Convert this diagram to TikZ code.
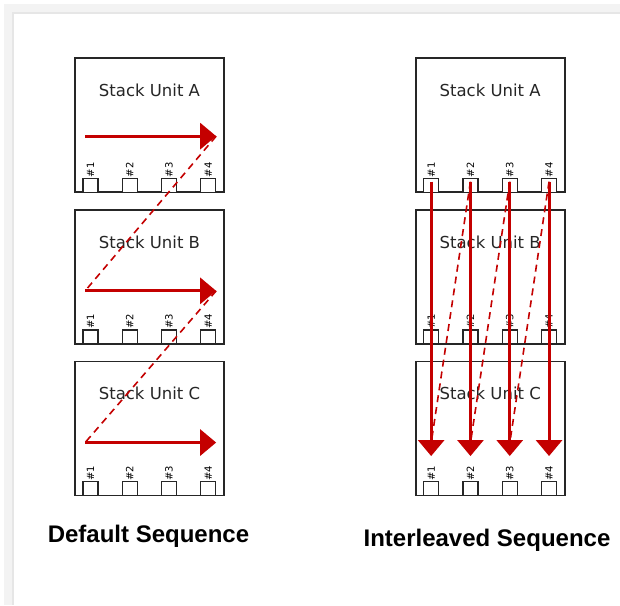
\documentclass[tikz,border=0pt]{standalone}
\usepackage{fontspec}
\setmainfont{Liberation Sans}
\newfontfamily\unitfont{DejaVu Sans}
\usetikzlibrary{arrows.meta,positioning,calc}
\definecolor{ink}{HTML}{262626}
\definecolor{seqred}{HTML}{C40000}
\definecolor{shadegray}{HTML}{E6E6E6}

\begin{document}
\begin{tikzpicture}[x=1pt,y=-1pt,node distance=16pt and 190pt, every node/.style={inner sep=0pt}, unit/.style={draw=ink,line width=1.7pt,fill=white,minimum width=149pt,minimum height=134pt}, port/.style={draw=ink,line width=1.2pt,fill=white,minimum width=15pt,minimum height=14pt,anchor=south}, portlabel/.style={font=\unitfont\fontsize{10}{10}\selectfont,text=black,rotate=90}, unittitle/.style={font=\unitfont\fontsize{16.5}{16.5}\selectfont,text=ink}, caption/.style={font=\bfseries\fontsize{24}{24}\selectfont,text=black}, seq/.style={-{Triangle[length=16pt,width=26pt]},draw=seqred,line width=3pt}, hop/.style={draw=seqred,line width=1.6pt,dash pattern=on 7pt off 5pt}]
\useasboundingbox (0,0) rectangle (620,605);
% frame shadow
\draw[shadegray!50,line width=8pt] (8,605) -- (8,8) -- (620,8);
\draw[shadegray,line width=2pt] (13,605) -- (13,13) -- (620,13);
% stack units
\node[unit] (la) at (149.5,125) {};
\node[unit,below=of la] (lb) {};
\node[unit,below=of lb] (lc) {};
\node[unit,right=of la] (ra) {};
\node[unit,below=of ra] (rb) {};
\node[unit,below=of rb] (rc) {};
\foreach \u/\t in {la/A,lb/B,lc/C,ra/A,rb/B,rc/C}{
  \node[unittitle] (\u-title) at ($(\u.north)+(0,33)$) {Stack Unit \t};
  \foreach \k in {1,...,4}{
    \pgfmathsetmacro\dx{16.3+39.3*(\k-1)}
    \node[port] (\u-\k) at ($(\u.south west)+(\dx,0)$) {};
    \node[portlabel] (\u-\k-label) at ($(\u.south west)+(\dx,-23)$) {\#\k};
  }
}
% default sequence
\foreach \u/\dy in {la/79,lb/82,lc/82}{
  \coordinate (\u-s) at ($(\u.north west)+(11,\dy)$);
  \coordinate (\u-e) at ($(\u.north west)+(142,\dy)$);
}
\foreach \x/\y in {la/lb,lb/lc}{\draw[hop] (\x-e)--(\y-s);}
\foreach \u in {la,lb,lc}{\draw[seq] (\u-s)--(\u-e);}
% interleaved sequence
\foreach \k in {1,...,4}{
  \coordinate (rs-\k) at ($(ra-\k.north)+(0,4)$);
  \coordinate (re-\k) at ($(rc-\k.north)+(0,-25)$);
  \coordinate (rd-\k) at ($(rc-\k.north)+(0,-38)$);
}
\foreach \x/\y in {2/1,3/2,4/3}{\draw[hop] (rs-\x)--(rd-\y);}
\foreach \k in {1,...,4}{\draw[seq] (rs-\k)--(re-\k);}
\node[caption] (dseq) at (148.5,536) {Default Sequence};
\node[caption] (iseq) at (487,540) {Interleaved Sequence};
\end{tikzpicture}
\end{document}
